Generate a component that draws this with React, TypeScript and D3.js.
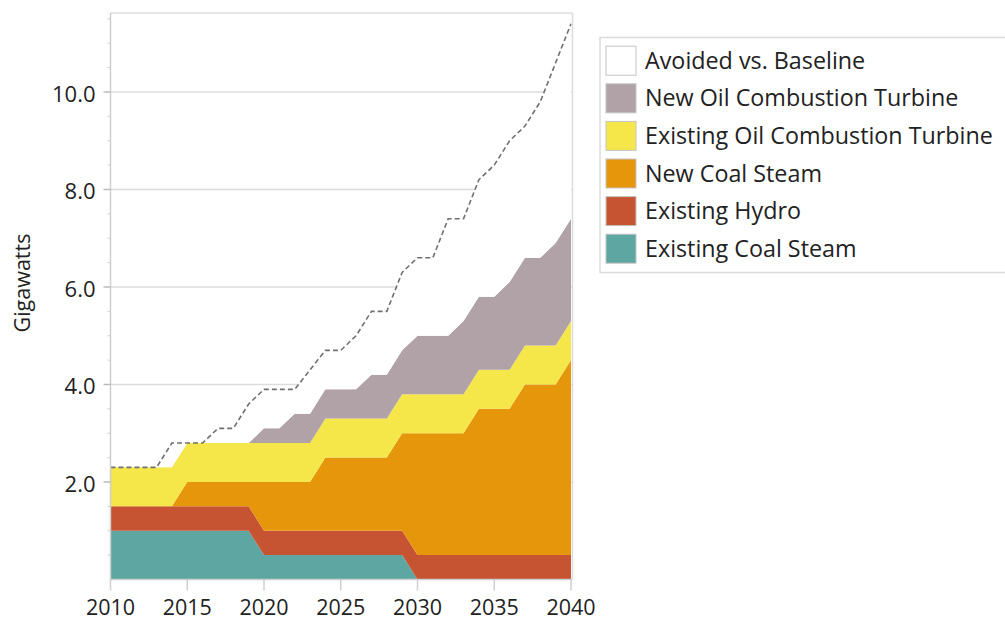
import React from "react";
import * as d3 from "d3";

const years = [2010, 2011, 2012, 2013, 2014, 2015, 2016, 2017, 2018, 2019, 2020, 2021, 2022, 2023, 2024, 2025, 2026, 2027, 2028, 2029, 2030, 2031, 2032, 2033, 2034, 2035, 2036, 2037, 2038, 2039, 2040];
const existingCoalSteam = [1.0, 1.0, 1.0, 1.0, 1.0, 1.0, 1.0, 1.0, 1.0, 1.0, 0.5, 0.5, 0.5, 0.5, 0.5, 0.5, 0.5, 0.5, 0.5, 0.5, 0, 0, 0, 0, 0, 0, 0, 0, 0, 0, 0];
const existingHydro = [0.5, 0.5, 0.5, 0.5, 0.5, 0.5, 0.5, 0.5, 0.5, 0.5, 0.5, 0.5, 0.5, 0.5, 0.5, 0.5, 0.5, 0.5, 0.5, 0.5, 0.5, 0.5, 0.5, 0.5, 0.5, 0.5, 0.5, 0.5, 0.5, 0.5, 0.5];
const newCoalSteam = [0, 0, 0, 0, 0, 0.5, 0.5, 0.5, 0.5, 0.5, 1.0, 1.0, 1.0, 1.0, 1.5, 1.5, 1.5, 1.5, 1.5, 2.0, 2.5, 2.5, 2.5, 2.5, 3.0, 3.0, 3.0, 3.5, 3.5, 3.5, 4.0];
const existingOilCT = [0.8, 0.8, 0.8, 0.8, 0.8, 0.8, 0.8, 0.8, 0.8, 0.8, 0.8, 0.8, 0.8, 0.8, 0.8, 0.8, 0.8, 0.8, 0.8, 0.8, 0.8, 0.8, 0.8, 0.8, 0.8, 0.8, 0.8, 0.8, 0.8, 0.8, 0.8];
const newOilCT = [0, 0, 0, 0, 0, 0, 0, 0, 0, 0, 0.3, 0.3, 0.6, 0.6, 0.6, 0.6, 0.6, 0.9, 0.9, 0.9, 1.2, 1.2, 1.2, 1.5, 1.5, 1.5, 1.8, 1.8, 1.8, 2.1, 2.1];
const baseline = [2.3, 2.3, 2.3, 2.3, 2.8, 2.8, 2.8, 3.1, 3.1, 3.6, 3.9, 3.9, 3.9, 4.3, 4.7, 4.7, 5.0, 5.5, 5.5, 6.3, 6.6, 6.6, 7.4, 7.4, 8.2, 8.5, 9.0, 9.3, 9.8, 10.6, 11.4];

const yTicks = [2, 4, 6, 8, 10];
const yMinorTicks = [0.5, 1, 1.5, 2.5, 3, 3.5, 4.5, 5, 5.5, 6.5, 7, 7.5, 8.5, 9, 9.5, 10.5, 11, 11.5];
const xTicks = [2010, 2015, 2020, 2025, 2030, 2035, 2040];

const seriesKeys = ["coal", "hydro", "newCoal", "oilCT", "newOilCT", "avoided"];
const seriesLabels = ["Existing Coal Steam", "Existing Hydro", "New Coal Steam", "Existing Oil Combustion Turbine", "New Oil Combustion Turbine", "Avoided vs. Baseline"];
const seriesColors = ["#5ea6a1", "#c65432", "#e6960b", "#f5e64a", "#b0a2a6", "#ffffff"];

const FONT = "'Open Sans', 'Noto Sans', sans-serif";

export default function App() {
  const width = 1005;
  const height = 622;
  const x = d3.scaleLinear().domain([2010, 2040]).range([110.5, 571]);
  const y = d3.scaleLinear().domain([0, 11.62]).range([579.5, 13]);

  const rows = years.map((yr, i) => {
    const total = existingCoalSteam[i] + existingHydro[i] + newCoalSteam[i] + existingOilCT[i] + newOilCT[i];
    return {
      year: yr,
      coal: existingCoalSteam[i],
      hydro: existingHydro[i],
      newCoal: newCoalSteam[i],
      oilCT: existingOilCT[i],
      newOilCT: newOilCT[i],
      avoided: Math.max(0, baseline[i] - total),
    };
  });
  const stacked = d3.stack<any>().keys(seriesKeys)(rows);
  const area = d3
    .area<any>()
    .x((d) => x(d.data.year))
    .y0((d) => y(d[0]))
    .y1((d) => y(d[1]));
  const line = d3
    .line<number>()
    .x((_, i) => x(years[i]))
    .y((d) => y(d));

  const left = 110.5;
  const right = 572.5;
  const top = 13;
  const bottom = 579.5;

  const legendOrder = [5, 4, 3, 2, 1, 0];

  return (
    <svg width={width} height={height} style={{ position: "absolute", left: 0, top: 0, background: "#fff" }}>
      {/* gridlines */}
      {yTicks.map((t) => (
        <line key={"g" + t} x1={left} x2={right} y1={y(t)} y2={y(t)} stroke="#dcdcdc" strokeWidth={1.5} />
      ))}
      {/* areas */}
      {stacked.map((s, i) => (
        <path key={s.key} d={area(s) || ""} fill={seriesColors[i]} stroke="none" />
      ))}
      {/* baseline */}
      <path d={line(baseline) || ""} fill="none" stroke="#707070" strokeWidth={1.6} strokeDasharray="5,3" />
      {/* frame */}
      <line x1={left} x2={right} y1={top} y2={top} stroke="#dcdcdc" strokeWidth={1.5} />
      <line x1={right} x2={right} y1={top} y2={bottom} stroke="#dcdcdc" strokeWidth={1.5} />
      <line x1={left} x2={left} y1={top} y2={bottom + 0.5} stroke="#cfcfcf" strokeWidth={1.5} />
      <line x1={left} x2={right} y1={bottom} y2={bottom} stroke="#cfcfcf" strokeWidth={1.5} />
      {/* y ticks */}
      {yMinorTicks.map((t) => (
        <line key={"m" + t} x1={left - 3} x2={left} y1={y(t)} y2={y(t)} stroke="#cfcfcf" strokeWidth={1} />
      ))}
      {yTicks.map((t) => (
        <g key={"yt" + t}>
          <line x1={left - 7} x2={left} y1={y(t)} y2={y(t)} stroke="#bbb" strokeWidth={1.5} />
          <text x={left - 15} y={y(t) + 2} dy="0.35em" textAnchor="end" fontFamily={FONT} fontSize={22} fill="#222">
            {d3.format(".1f")(t)}
          </text>
        </g>
      ))}
      {/* x ticks */}
      {xTicks.map((t) => (
        <g key={"xt" + t}>
          <line x1={x(t)} x2={x(t)} y1={bottom} y2={bottom + 11} stroke="#cfcfcf" strokeWidth={1.5} />
          <text x={x(t)} y={bottom + 28} dy="0.35em" textAnchor="middle" fontFamily={FONT} fontSize={21.5} fill="#222">
            {t}
          </text>
        </g>
      ))}
      {/* y label */}
      <text
        transform={`translate(${22},${283}) rotate(-90)`}
        textAnchor="middle"
        dy="0.35em"
        fontFamily={FONT}
        fontSize={21.5}
        fill="#222"
      >
        Gigawatts
      </text>
      {/* legend */}
      <rect x={600} y={37.5} width={420} height={235} fill="#fff" stroke="#dcdcdc" strokeWidth={1.5} />
      {legendOrder.map((si, r) => {
        const cy = 60.7 + r * 37.6;
        return (
          <g key={"lg" + si}>
            <rect x={606} y={cy - 14.5} width={30} height={29} fill={seriesColors[si]} stroke="#c4c4c4" strokeWidth={1} />
            <text x={645} y={cy} dy="0.35em" fontFamily={FONT} fontSize={23.3} fill="#222">
              {seriesLabels[si]}
            </text>
          </g>
        );
      })}
    </svg>
  );
}
